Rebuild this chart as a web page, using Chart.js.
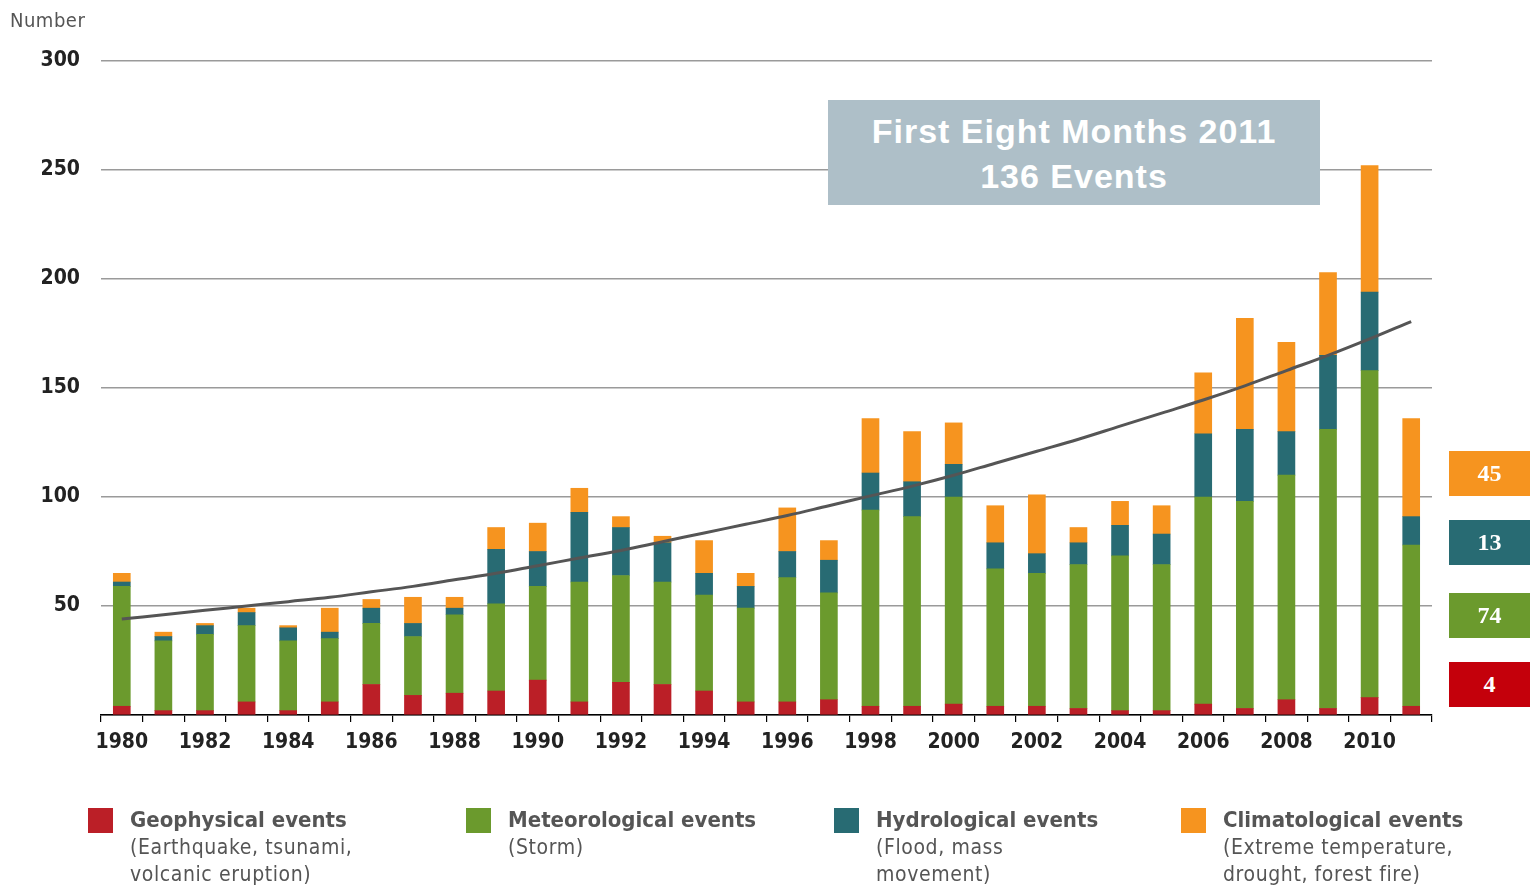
<!DOCTYPE html>
<html>
<head>
<meta charset="utf-8">
<script src="https://cdn.jsdelivr.net/npm/chart.js@4.4.0/dist/chart.umd.min.js"></script>
<style>
  html, body { margin:0; padding:0; background:#fff; }
  body { width:1530px; height:886px; position:relative; overflow:hidden; font-family:"Liberation Sans Narrow","DejaVu Sans Condensed","Liberation Sans",sans-serif; }
  #c { position:absolute; left:0; top:0; }
  #ylab { position:absolute; left:10px; top:8px; font-size:20px; color:#555; letter-spacing:0.5px; }
  #titlebox { position:absolute; left:828px; top:100px; width:492px; height:105px; background:#aebfc8; color:#fff;
    font-family:"Liberation Sans",Arial,sans-serif; font-weight:bold; font-size:34px; letter-spacing:1px; text-align:center; line-height:45px; box-sizing:border-box; padding-top:9px; }
  .rbox { position:absolute; left:1449px; width:81px; height:45px; color:#fff; font-family:"Liberation Serif","DejaVu Serif",serif; font-weight:bold; font-size:24px; text-align:center; line-height:45px; }
  .leg { position:absolute; top:806px; }
  .leg .sw { position:absolute; left:0; top:2px; width:25px; height:25px; }
  .leg .t { position:absolute; left:42px; top:0; white-space:nowrap; font-weight:bold; font-size:22px; color:#555; line-height:27px; }
  .leg .s { position:absolute; left:42px; top:28px; white-space:nowrap; font-size:21px; color:#555; line-height:27px; letter-spacing:0.6px; }
</style>
</head>
<body>
<canvas id="c" width="1530" height="886"></canvas>
<div id="ylab">Number</div>
<div id="titlebox">First Eight Months 2011<br>136 Events</div>
<div id="rboxes"></div>
<div id="legend"></div>
<script>
// ---- data ----
const years = [1980,1981,1982,1983,1984,1985,1986,1987,1988,1989,1990,1991,1992,1993,1994,1995,
               1996,1997,1998,1999,2000,2001,2002,2003,2004,2005,2006,2007,2008,2009,2010,2011];
const geophysical    = [4,2,2,6,2,6,14,9,10,11,16,6,15,14,11,6,6,7,4,4,5,4,4,3,2,2,5,3,7,3,8,4];
const meteorological = [55,32,35,35,32,29,28,27,36,40,43,55,49,47,44,43,57,49,90,87,95,63,61,66,71,67,95,95,103,128,150,74];
const hydrological   = [2,2,4,6,6,3,7,6,3,25,16,32,22,18,10,10,12,15,17,16,15,12,9,10,14,14,29,33,20,34,36,13];
const climatological = [4,2,1,2,1,11,4,12,5,10,13,11,5,3,15,6,20,9,25,23,19,17,27,7,11,13,28,51,41,38,58,45];
const trend = [44,46,48,50,52,54,56.5,59,62,65,68.5,72,75.5,79.5,83.5,87.5,91.5,96,100.5,105,110,115.5,121,126.5,132.5,138.5,144.5,151,158,165,172.5,180.5];
const yTicks = [0,50,100,150,200,250,300];

const seriesNames = ["Geophysical events","Meteorological events","Hydrological events","Climatological events"];
const seriesNotes = [["(Earthquake, tsunami,","volcanic eruption)"],["(Storm)"],["(Flood, mass","movement)"],["(Extreme temperature,","drought, forest fire)"]];
const seriesColors = ["#bb1f27","#6b9a2d","#286b73","#f6941f"];
const boxColors = ["#c4000b","#6b9a2d","#286b73","#f6941f"];
const seriesData = [geophysical, meteorological, hydrological, climatological];

// ---- chart ----
const barDatasets = seriesData.map((d,i)=>({
  type:'bar', label:seriesNames[i], data:d, backgroundColor:seriesColors[i],
  stack:'events', barThickness:17, order:2
}));
const chart = new Chart(document.getElementById('c'), {
  data: {
    labels: years.map(String),
    datasets: [...barDatasets, {
      type:'line', label:'Trend', data:trend, stack:'trend', borderColor:'#555', borderWidth:3,
      pointRadius:0, tension:0.4, fill:false, order:1
    }]
  },
  options: {
    responsive:false, animation:false,
    layout:{ padding:{ left:0, right:98, top:61, bottom:0 } },
    plugins:{ legend:{display:false}, tooltip:{enabled:false} },
    scales:{
      x:{
        stacked:true, offset:true,
        grid:{ offset:true, drawOnChartArea:false, drawTicks:true, tickLength:7, color:'#000', lineWidth:1.2 },
        border:{ display:true, color:'#000', width:1.5 },
        ticks:{ autoSkip:false, maxRotation:0, padding:8, color:'#222',
          font:{ family:'"Liberation Sans Narrow","DejaVu Sans Condensed",sans-serif', size:21, weight:'bold' },
          callback:function(v,i){ return years[i] % 2 === 0 ? String(years[i]) : ''; } },
        afterFit:function(s){ s.height = 171; }
      },
      y:{
        stacked:true, min:0, max:300,
        afterBuildTicks:function(s){ s.ticks = yTicks.map(v=>({value:v})); },
        grid:{ drawTicks:false, color:'#9a9a9a', lineWidth:1.5 },
        border:{ display:false },
        ticks:{ padding:21, color:'#222',
          font:{ family:'"Liberation Sans Narrow","DejaVu Sans Condensed",sans-serif', size:21, weight:'bold' },
          callback:function(v){ return v === 0 ? '' : String(v); } },
        afterFit:function(s){ s.width = 101; }
      }
    }
  }
});

// ---- right-side 2011 boxes ----
const last = years.length - 1;
const boxTops = [662, 593, 520, 451];
const rb = document.getElementById('rboxes');
seriesData.forEach((d,i)=>{
  const el = document.createElement('div');
  el.className='rbox'; el.style.top = boxTops[i]+'px'; el.style.background = boxColors[i];
  el.textContent = d[last]; rb.appendChild(el);
});

// ---- legend ----
const legX = [88, 466, 834, 1181];
const lg = document.getElementById('legend');
seriesNames.forEach((n,i)=>{
  const it = document.createElement('div'); it.className='leg'; it.style.left = legX[i]+'px';
  it.innerHTML = '<div class="sw" style="background:'+seriesColors[i]+'"></div><div class="t">'+n+'</div><div class="s">'+seriesNotes[i].join('<br>')+'</div>';
  lg.appendChild(it);
});
</script>
</body>
</html>
